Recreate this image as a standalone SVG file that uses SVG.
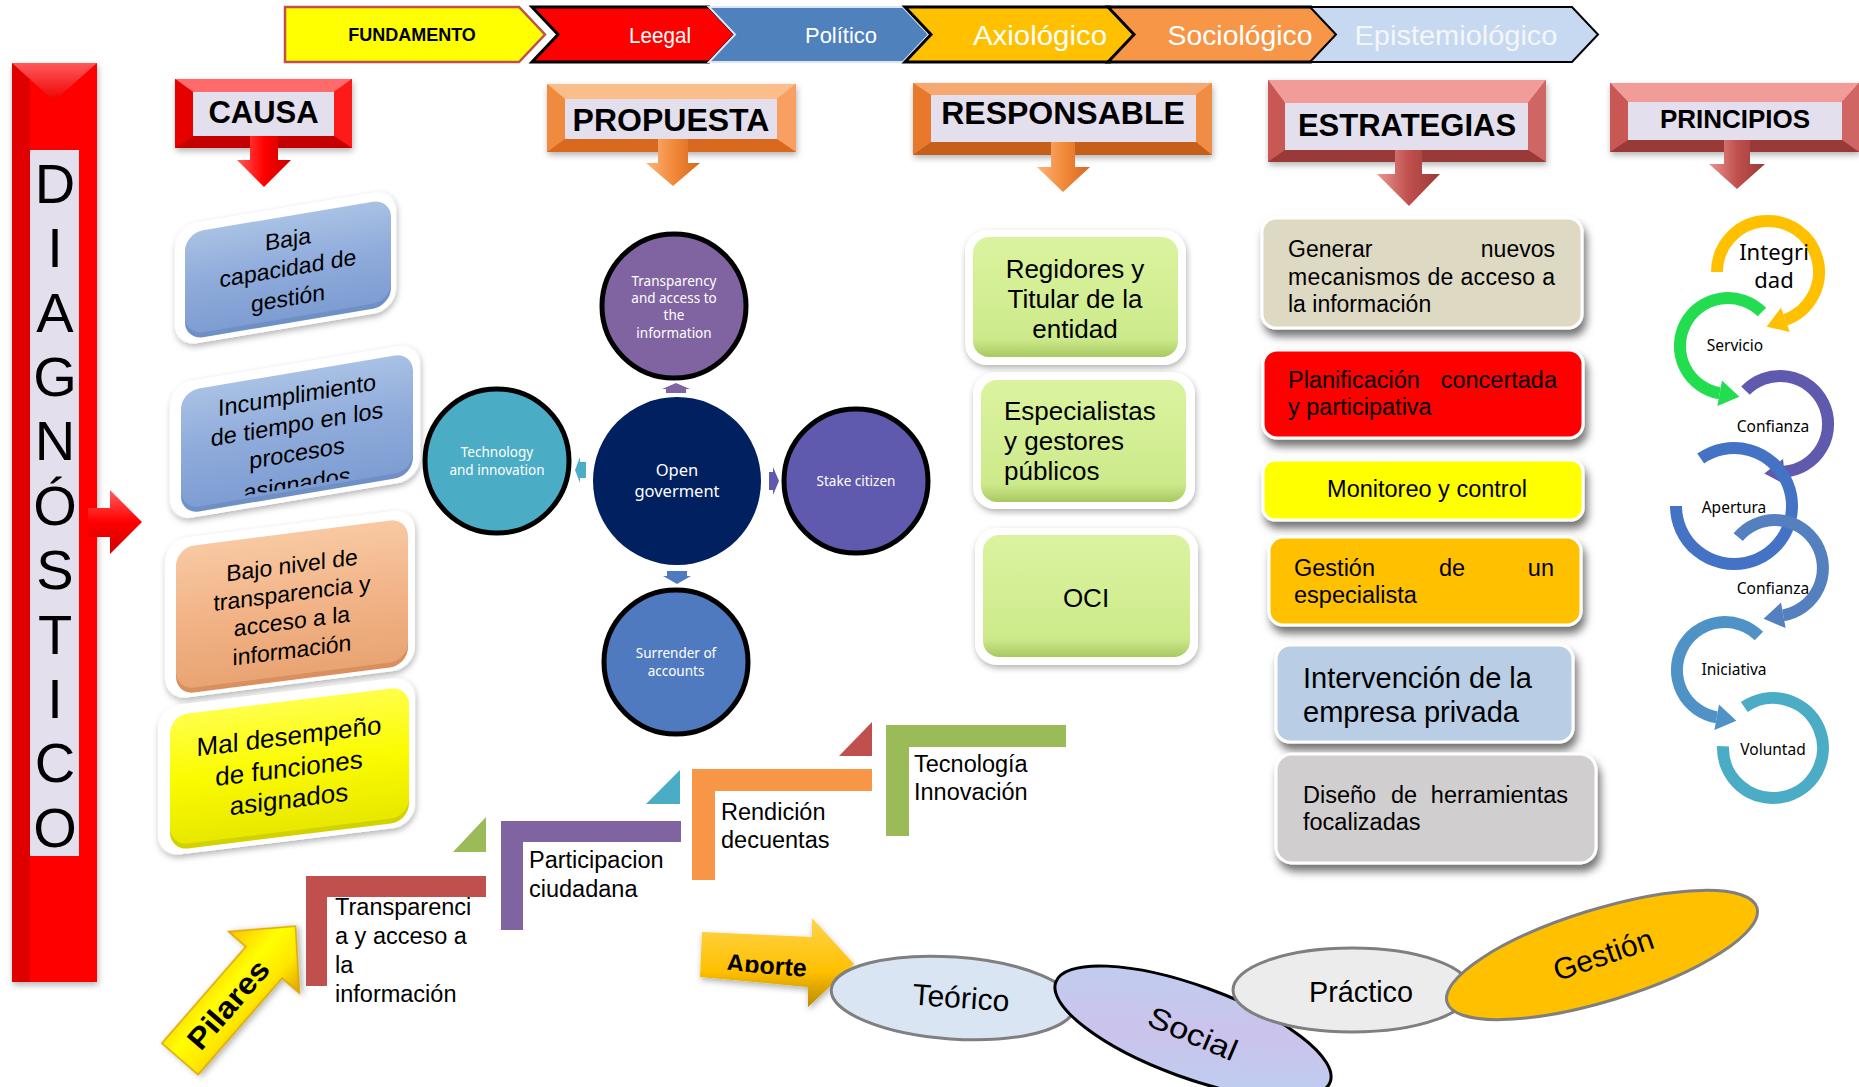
<svg xmlns="http://www.w3.org/2000/svg" width="1859" height="1087" viewBox="0 0 1859 1087">
<defs>
<style>
text{font-family:"Liberation Sans",Arial,sans-serif;fill:#000;}
.b{font-weight:bold;}
.cal{font-family:"Noto Sans","Open Sans",sans-serif;}
.w{fill:#fff;}
.mid{text-anchor:middle;}
.end{text-anchor:end;}
.inner{fill:#e4dfec;}
.circ{stroke:#000;stroke-width:5;}
.est{stroke:#fff;stroke-width:3;filter:url(#shadow);}
.arc{fill:none;stroke-width:12;}
.wbox{fill:#fff;filter:url(#soft);}
</style>
<filter id="soft" x="-15%" y="-15%" width="135%" height="140%"><feDropShadow dx="1" dy="3" stdDeviation="3" flood-color="#000" flood-opacity="0.3"/></filter>
<filter id="shadow" x="-10%" y="-20%" width="125%" height="160%"><feDropShadow dx="3" dy="7" stdDeviation="4" flood-color="#000" flood-opacity="0.55"/></filter>
<linearGradient id="gBlue" x1="0" y1="0" x2="0" y2="1"><stop offset="0" stop-color="#a9c1e4"/><stop offset="0.5" stop-color="#8fabdb"/><stop offset="1" stop-color="#7e9dd2"/></linearGradient>
<linearGradient id="gPeach" x1="0" y1="0" x2="0" y2="1"><stop offset="0" stop-color="#f8c9a2"/><stop offset="0.5" stop-color="#f2b488"/><stop offset="1" stop-color="#e9a473"/></linearGradient>
<linearGradient id="gYel" x1="0" y1="0" x2="0" y2="1"><stop offset="0" stop-color="#ffff4a"/><stop offset="0.5" stop-color="#fbfb00"/><stop offset="1" stop-color="#e8e800"/></linearGradient>
<linearGradient id="gGreen" x1="0" y1="0" x2="0" y2="1"><stop offset="0" stop-color="#dbf39f"/><stop offset="0.85" stop-color="#cdea8b"/><stop offset="1" stop-color="#a9c862"/></linearGradient>
<linearGradient id="gArrR" x1="0" y1="0" x2="1" y2="0"><stop offset="0" stop-color="#ff5a5a"/><stop offset="0.5" stop-color="#ff0000"/><stop offset="1" stop-color="#c80000"/></linearGradient>
<linearGradient id="gArrO" x1="0" y1="0" x2="1" y2="0"><stop offset="0" stop-color="#fbb57c"/><stop offset="0.5" stop-color="#f28a3a"/><stop offset="1" stop-color="#d8661c"/></linearGradient>
<linearGradient id="gArrP" x1="0" y1="0" x2="1" y2="0"><stop offset="0" stop-color="#e89694"/><stop offset="0.5" stop-color="#c0504d"/><stop offset="1" stop-color="#9a3a38"/></linearGradient>
<linearGradient id="gDiagArr" x1="0" y1="0" x2="0" y2="1"><stop offset="0" stop-color="#ff6060"/><stop offset="0.5" stop-color="#ff0000"/><stop offset="1" stop-color="#d00000"/></linearGradient>
<linearGradient id="gTop" x1="0" y1="0" x2="0" y2="1"><stop offset="0" stop-color="#ff5a5a"/><stop offset="1" stop-color="#f00000"/></linearGradient>
<linearGradient id="gAporte" x1="0" y1="0" x2="0" y2="1"><stop offset="0" stop-color="#ffd34d"/><stop offset="0.6" stop-color="#ffc000"/><stop offset="1" stop-color="#b88a00"/></linearGradient>
<linearGradient id="gPil" x1="0" y1="0" x2="0" y2="1"><stop offset="0" stop-color="#ffc000"/><stop offset="0.4" stop-color="#ffff00"/><stop offset="0.7" stop-color="#ffe600"/><stop offset="1" stop-color="#e0a000"/></linearGradient>
<linearGradient id="gSocial" x1="0" y1="0" x2="1" y2="1"><stop offset="0" stop-color="#bcd0f0"/><stop offset="0.5" stop-color="#cbc3ec"/><stop offset="1" stop-color="#b8d2f2"/></linearGradient>
<clipPath id="cl1"><rect x="-103" y="-51" width="206" height="95"/></clipPath>
<clipPath id="cl2"><rect x="-116" y="-59" width="232" height="115"/></clipPath>
<clipPath id="clGen"><rect x="1262" y="218" width="320" height="97"/></clipPath>
<clipPath id="clAp"><polygon points="700,925 815,930 815,976 700,971"/></clipPath>
</defs>

<rect width="1859" height="1087" fill="#fff"/>

<!-- top banner -->
<g id="fundamento">
<polygon points="285,7 519,7 545,34.5 519,62 285,62" fill="#ffff00" stroke="#c0504d" stroke-width="2.5"/>
<text class="b mid" x="412" y="41" font-size="18">FUNDAMENTO</text>
</g>
<g id="leegal">
<polygon points="532,7 709,7 735,34.5 709,62 532,62 558,34.5" fill="#ff0000" stroke="#000" stroke-width="3"/>
<text class="w mid" x="660" y="43" font-size="22" textLength="62" lengthAdjust="spacingAndGlyphs">Leegal</text>
</g>
<g id="politico">
<polygon points="709,7 903,7 929,34.5 903,62 709,62 735,34.5" fill="#4f81bd" stroke="#dce6f2" stroke-width="2"/>
<text class="w mid" x="841" y="43" font-size="22" textLength="72" lengthAdjust="spacingAndGlyphs">Político</text>
</g>
<g id="axiologico">
<polygon points="905,7 1110,7 1136,34.5 1110,62 905,62 931,34.5" fill="#ffc000" stroke="#000" stroke-width="3"/>
<text class="w mid" x="1040" y="45" font-size="28" textLength="134" lengthAdjust="spacingAndGlyphs">Axiológico</text>
</g>
<g id="sociologico">
<polygon points="1108,7 1311,7 1337,34.5 1311,62 1108,62 1134,34.5" fill="#f79646" stroke="#000" stroke-width="3"/>
<text class="w mid" x="1240" y="45" font-size="28" textLength="145" lengthAdjust="spacingAndGlyphs">Sociológico</text>
</g>
<g id="epistemiologico">
<polygon points="1310,7 1572,7 1598,34.5 1572,62 1310,62 1336,34.5" fill="#c6d9f1" stroke="#000" stroke-width="2"/>
<text class="mid" x="1456" y="45" font-size="28" textLength="203" lengthAdjust="spacingAndGlyphs" style="fill:#f4f6fa">Epistemiológico</text>
</g>

<!-- DIAGNOSTICO bar -->
<g id="diagnostico">
<rect x="12" y="63" width="85" height="919" fill="#ff0000" filter="url(#soft)"/>
<rect x="12" y="63" width="18" height="919" fill="#e00000"/>
<polygon points="12,63 97,63 54,101" fill="url(#gTop)"/>
<rect class="inner" x="30" y="150" width="49" height="706"/>
<g class="mid" font-size="56">
<text class="mid" x="55" y="203">D</text>
<text class="mid" x="55" y="267">I</text>
<text class="mid" x="55" y="332">A</text>
<text class="mid" x="55" y="396">G</text>
<text class="mid" x="55" y="460">N</text>
<text class="mid" x="55" y="525">Ó</text>
<text class="mid" x="55" y="589">S</text>
<text class="mid" x="55" y="654">T</text>
<text class="mid" x="55" y="718">I</text>
<text class="mid" x="55" y="782">C</text>
<text class="mid" x="55" y="847">O</text>
</g>
</g>

<!-- header boxes -->
<g id="causa-header">
<rect x="175" y="79" width="177" height="69" fill="#ff0000" filter="url(#soft)"/>
<polygon points="175,79 352,79 334,92 193,92" fill="#ff6a6a"/>
<polygon points="175,79 193,92 193,136 175,148" fill="#e60000"/>
<polygon points="352,79 352,148 334,136 334,92" fill="#ff1a1a"/>
<polygon points="175,148 193,136 334,136 352,148" fill="#c40000"/>
<rect class="inner" x="193" y="92" width="141" height="44"/>
<text class="b mid" x="263.5" y="123" font-size="31">CAUSA</text>
</g>
<g id="propuesta-header">
<rect x="547" y="84" width="249" height="68" fill="#f79646" filter="url(#soft)"/>
<polygon points="547,84 796,84 777,99 565,99" fill="#fbbd8a"/>
<polygon points="547,84 565,99 565,139 547,152" fill="#f08a3c"/>
<polygon points="796,84 796,152 777,139 777,99" fill="#f7a062"/>
<polygon points="547,152 565,139 777,139 796,152" fill="#d8691f"/>
<rect class="inner" x="565" y="99" width="212" height="40"/>
<text class="b mid" x="671" y="131" font-size="32">PROPUESTA</text>
</g>
<g id="responsable-header">
<rect x="913" y="83" width="299" height="72" fill="#ed7d31" filter="url(#soft)"/>
<polygon points="913,83 1212,83 1196,95 931,95" fill="#f6a870"/>
<polygon points="913,83 931,95 931,142 913,155" fill="#e8792c"/>
<polygon points="1212,83 1212,155 1196,142 1196,95" fill="#f08c44"/>
<polygon points="913,155 931,142 1196,142 1212,155" fill="#c55f1a"/>
<rect class="inner" x="931" y="95" width="265" height="47"/>
<text class="b mid" x="1063" y="124" font-size="32">RESPONSABLE</text>
</g>
<g id="estrategias-header">
<rect x="1268" y="80" width="278" height="82" fill="#c0504d" filter="url(#soft)"/>
<polygon points="1268,80 1546,80 1528,103 1285,103" fill="#f19c99"/>
<polygon points="1268,80 1285,103 1285,150 1268,162" fill="#c95855"/>
<polygon points="1546,80 1546,162 1528,150 1528,103" fill="#d06663"/>
<polygon points="1268,162 1285,150 1528,150 1546,162" fill="#9a3a38"/>
<rect class="inner" x="1285" y="103" width="243" height="47"/>
<text class="b mid" x="1407" y="136" font-size="31">ESTRATEGIAS</text>
</g>
<g id="principios-header">
<rect x="1610" y="83" width="249" height="69" fill="#c0504d" filter="url(#soft)"/>
<polygon points="1610,83 1859,83 1842,102 1628,102" fill="#f19c99"/>
<polygon points="1610,83 1628,102 1628,140 1610,152" fill="#c95855"/>
<polygon points="1859,83 1859,152 1842,140 1842,102" fill="#d06663"/>
<polygon points="1610,152 1628,140 1842,140 1859,152" fill="#9a3a38"/>
<rect class="inner" x="1628" y="102" width="214" height="38"/>
<text class="b mid" x="1735" y="128" font-size="26">PRINCIPIOS</text>
</g>

<!-- CAUSA boxes -->
<g id="causa-1" transform="translate(288,267) skewY(-9.5)">
<rect class="wbox" x="-113" y="-60" width="221" height="121" rx="22"/>
<rect x="-103" y="-46" width="206" height="102" rx="18" fill="#6f8fc5"/>
<rect x="-103" y="-51" width="206" height="102" rx="18" fill="url(#gBlue)"/>
<text class="mid" font-size="23" clip-path="url(#cl1)"><tspan x="0" y="-20">Baja</tspan><tspan x="0" y="9">capacidad de</tspan><tspan x="0" y="39">gestión</tspan></text>
</g>
<g id="causa-2" transform="translate(297,431) skewY(-9.5)">
<rect class="wbox" x="-127" y="-68" width="250" height="137" rx="22"/>
<rect x="-116" y="-54" width="232" height="118" rx="18" fill="#6f8fc5"/>
<rect x="-116" y="-59" width="232" height="118" rx="18" fill="url(#gBlue)"/>
<text class="mid" font-size="23.5" clip-path="url(#cl2)"><tspan x="0" y="-28">Incumplimiento</tspan><tspan x="0" y="1">de tiempo en los</tspan><tspan x="0" y="30">procesos</tspan><tspan x="0" y="61">asignados</tspan></text>
</g>
<g id="causa-3" transform="translate(292,604) skewY(-7.3)">
<rect class="wbox" x="-127" y="-80" width="250" height="160" rx="22"/>
<rect x="-116" y="-66" width="232" height="142" rx="18" fill="#d9905e"/>
<rect x="-116" y="-71" width="232" height="142" rx="18" fill="url(#gPeach)"/>
<text class="mid" font-size="23"><tspan x="0" y="-31">Bajo nivel de</tspan><tspan x="0" y="-3">transparencia y</tspan><tspan x="0" y="25">acceso a la</tspan><tspan x="0" y="54">información</tspan></text>
</g>
<g id="causa-4" transform="translate(289,766) skewY(-7)">
<rect class="wbox" x="-131" y="-75" width="257" height="150" rx="22"/>
<rect x="-119" y="-60" width="239" height="130" rx="18" fill="#d2d200"/>
<rect x="-119" y="-65" width="239" height="130" rx="18" fill="url(#gYel)"/>
<text class="mid" font-size="26"><tspan x="0" y="-21">Mal desempeño</tspan><tspan x="0" y="11">de funciones</tspan><tspan x="0" y="42">asignados</tspan></text>
</g>

<!-- PROPUESTA circles -->
<g id="open-government">
<circle cx="677" cy="481" r="84" fill="#002060"/>
<text class="cal w mid" font-size="16.5"><tspan x="677" y="476">Open</tspan><tspan x="677" y="497">goverment</tspan></text>
</g>
<g id="transparency">
<circle class="circ" cx="674" cy="306" r="72" fill="#8064a2"/>
<text class="cal w mid" font-size="13.5"><tspan x="674" y="285.5">Transparency</tspan><tspan x="674" y="302.5">and access to</tspan><tspan x="674" y="319.5">the</tspan><tspan x="674" y="337.5">information</tspan></text>
</g>
<g id="technology">
<circle class="circ" cx="497" cy="461" r="72" fill="#4bacc6"/>
<text class="cal w mid" font-size="13.5"><tspan x="497" y="457">Technology</tspan><tspan x="497" y="475">and innovation</tspan></text>
</g>
<g id="stake-citizen">
<circle class="circ" cx="856" cy="481" r="72" fill="#5f5aad"/>
<text class="cal w mid" x="856" y="486" font-size="13.5">Stake citizen</text>
</g>
<g id="surrender">
<circle class="circ" cx="676" cy="662" r="72" fill="#4f7abf"/>
<text class="cal w mid" font-size="13.5"><tspan x="676" y="658">Surrender of</tspan><tspan x="676" y="676">accounts</tspan></text>
</g>

<!-- RESPONSABLE boxes -->
<g id="resp-1">
<rect class="wbox" x="965" y="230" width="221" height="135" rx="22"/>
<rect x="973" y="237" width="205" height="120" rx="16" fill="url(#gGreen)"/>
<text class="mid" font-size="26"><tspan x="1075" y="278">Regidores y</tspan><tspan x="1075" y="308">Titular de la</tspan><tspan x="1075" y="338">entidad</tspan></text>
</g>
<g id="resp-2">
<rect class="wbox" x="973" y="372" width="222" height="137" rx="22"/>
<rect x="981" y="380" width="205" height="122" rx="16" fill="url(#gGreen)"/>
<text font-size="26"><tspan x="1004" y="420">Especialistas</tspan><tspan x="1004" y="450">y gestores</tspan><tspan x="1004" y="480">públicos</tspan></text>
</g>
<g id="resp-3">
<rect class="wbox" x="975" y="528" width="223" height="137" rx="22"/>
<rect x="983" y="535" width="207" height="122" rx="16" fill="url(#gGreen)"/>
<text class="mid" x="1086" y="607" font-size="26">OCI</text>
</g>

<!-- ESTRATEGIAS boxes -->
<g id="est-1">
<rect class="est" x="1262" y="218" width="320" height="110" rx="14" fill="#ddd9c3"/>
<g clip-path="url(#clGen)" font-size="23">
<text x="1288" y="257">Generar</text>
<text class="end" x="1555" y="257">nuevos</text>
<text x="1288" y="285" textLength="267" lengthAdjust="spacing">mecanismos de acceso a</text>
<text x="1288" y="312">la información</text>
</g>
</g>
<g id="est-2">
<rect class="est" x="1263" y="350" width="320" height="88" rx="14" fill="#ff0000"/>
<text x="1288" y="388" font-size="23.5">Planificación</text>
<text class="end" x="1557" y="388" font-size="23.5">concertada</text>
<text x="1288" y="415" font-size="23.5">y participativa</text>
</g>
<g id="est-3">
<rect class="est" x="1263" y="460" width="320" height="60" rx="12" fill="#ffff00"/>
<text class="mid" x="1427" y="497" font-size="23.5">Monitoreo y control</text>
</g>
<g id="est-4">
<rect class="est" x="1269" y="537" width="312" height="88" rx="14" fill="#ffc000"/>
<text x="1294" y="576" font-size="23.5">Gestión</text>
<text class="mid" x="1452" y="576" font-size="23.5">de</text>
<text class="end" x="1554" y="576" font-size="23.5">un</text>
<text x="1294" y="603" font-size="23.5">especialista</text>
</g>
<g id="est-5">
<rect class="est" x="1276" y="645" width="297" height="97" rx="14" fill="#b9cde5"/>
<text font-size="29"><tspan x="1303" y="688">Intervención de la</tspan><tspan x="1303" y="722">empresa privada</tspan></text>
</g>
<g id="est-6">
<rect class="est" x="1276" y="754" width="320" height="109" rx="16" fill="#d0cece"/>
<text x="1303" y="803" font-size="23.5">Diseño</text>
<text class="mid" x="1404" y="803" font-size="23.5">de</text>
<text class="end" x="1568" y="803" font-size="23.5">herramientas</text>
<text x="1303" y="830" font-size="23.5">focalizadas</text>
</g>

<!-- PRINCIPIOS chain -->
<g id="p-integridad">
<path class="arc" d="M1717,272 A51,51 0 1 1 1785.4,319.9" stroke="#ffc000"/>
<polygon points="1789.8,332.1 1781,307.7 1766.6,326.7" fill="#ffc000"/>
<text class="cal mid" font-size="22"><tspan x="1774" y="260">Integri</tspan><tspan x="1774" y="288">dad</tspan></text>
</g>
<g id="p-servicio">
<path class="arc" d="M1761.9,312.1 A48,48 0 1 0 1719.7,393.3" stroke="#22dd50"/>
<polygon points="1717.4,406.1 1722,380.5 1739.4,396.8" fill="#22dd50"/>
<text class="cal mid" x="1735" y="351" font-size="15.5">Servicio</text>
</g>
<g id="p-confianza-1">
<path class="arc" d="M1745.5,390.7 A48,48 0 1 1 1784.2,471.8" stroke="#5f5aad"/>
<polygon points="1785.3,484.7 1783.1,458.9 1764.3,473.5" fill="#5f5aad"/>
<text class="cal mid" x="1773" y="432" font-size="15.5">Confianza</text>
</g>
<g id="p-apertura">
<path class="arc" d="M1700.7,458.5 A58,58 0 1 1 1676,506" stroke="#4472c4" stroke-width="15"/>
<text class="cal mid" x="1734" y="513" font-size="15.5">Apertura</text>
</g>
<g id="p-confianza-2">
<path class="arc" d="M1738.2,537.1 A48,48 0 1 1 1783.3,615.3" stroke="#5580c0"/>
<polygon points="1785.6,628.1 1781,602.5 1763.6,618.8" fill="#5580c0"/>
<text class="cal mid" x="1773" y="594" font-size="15.5">Confianza</text>
</g>
<g id="p-iniciativa">
<path class="arc" d="M1758.9,636.1 A48,48 0 1 0 1716.7,717.3" stroke="#4f93c6"/>
<polygon points="1714.4,730.1 1719,704.5 1736.4,720.8" fill="#4f93c6"/>
<text class="cal mid" x="1734" y="675" font-size="15.5">Iniciativa</text>
</g>
<g id="p-voluntad">
<path class="arc" d="M1744.3,707 A50,50 0 1 1 1723,746.3" stroke="#4bacc6"/>
<text class="cal mid" x="1773" y="755" font-size="15.5">Voluntad</text>
</g>

<!-- Pilares staircase -->
<g id="pilares-arrow" transform="translate(180,1059) rotate(-49)">
<polygon points="0,-24 128,-24 128,-47 176,0 128,47 128,24 0,24" fill="url(#gPil)" stroke="#d9a400" stroke-width="1.5" filter="url(#soft)"/>
<text class="b mid" x="73" y="11" font-size="30" textLength="108" lengthAdjust="spacingAndGlyphs">Pilares</text>
</g>
<g id="pilar-transparencia">
<polygon points="306,876 486,876 486,897 327,897 327,986 306,986" fill="#c0504d"/>
<text font-size="23.5"><tspan x="335" y="915">Transparenci</tspan><tspan x="335" y="944">a y acceso a</tspan><tspan x="335" y="973">la</tspan><tspan x="335" y="1002">información</tspan></text>
</g>
<g id="pilar-participacion">
<polygon points="453,852 486,852 486,817" fill="#9bbb59"/>
<polygon points="501,821 681,821 681,842 523,842 523,930 501,930" fill="#8064a2"/>
<text font-size="23.5"><tspan x="529" y="868">Participacion</tspan><tspan x="529" y="897">ciudadana</tspan></text>
</g>
<g id="pilar-rendicion">
<polygon points="646,804 680,804 680,770" fill="#4bacc6"/>
<polygon points="692,769 872,769 872,791 715,791 715,880 692,880" fill="#f79646"/>
<text font-size="23.5"><tspan x="721" y="820">Rendición</tspan><tspan x="721" y="848">decuentas</tspan></text>
</g>
<g id="pilar-tecnologia">
<polygon points="839,756 872,756 872,722" fill="#c0504d"/>
<polygon points="886,725 1066,725 1066,747 909,747 909,836 886,836" fill="#9bbb59"/>
<text font-size="23.5"><tspan x="914" y="772">Tecnología</tspan><tspan x="914" y="800">Innovación</tspan></text>
</g>

<!-- Aporte -->
<g id="aporte">
<polygon points="702,932 812,937 812,918 854,964 808,1007 808,987 700,977" fill="url(#gAporte)" filter="url(#soft)"/>
<text class="b mid" x="766" y="974" font-size="25" transform="rotate(4 766 974)" clip-path="url(#clAp)">Aporte</text>
</g>
<g id="teorico">
<ellipse cx="953" cy="998" rx="122" ry="41" transform="rotate(4 953 998)" fill="#dae5f3" stroke="#7f7f7f" stroke-width="3"/>
<text class="mid" x="961" y="1008" font-size="30" textLength="97" lengthAdjust="spacingAndGlyphs" transform="rotate(4 961 998)">Teórico</text>
</g>
<g id="social">
<ellipse cx="1193" cy="1032" rx="146" ry="46" transform="rotate(20 1193 1032)" fill="url(#gSocial)" stroke="#000" stroke-width="3"/>
<text class="mid" x="1193" y="1044" font-size="30" textLength="94" lengthAdjust="spacingAndGlyphs" transform="rotate(23 1193 1033)">Social</text>
</g>
<g id="practico">
<ellipse cx="1352" cy="990" rx="119" ry="42" fill="#ececec" stroke="#7f7f7f" stroke-width="3"/>
<text class="mid" x="1361" y="1002" font-size="30" textLength="104" lengthAdjust="spacingAndGlyphs">Práctico</text>
</g>
<g id="gestion">
<ellipse cx="1602" cy="955" rx="162" ry="46" transform="rotate(-17 1602 955)" fill="#ffc000" stroke="#7f7f7f" stroke-width="3"/>
<text class="mid" x="1603" y="965" font-size="30" textLength="104" lengthAdjust="spacingAndGlyphs" transform="rotate(-19 1603 954)">Gestión</text>
</g>

<!-- connectors -->
<g id="connectors">
<path d="M250,136 H278 V160 H291 L264,187 L237,160 H250 Z" fill="url(#gArrR)"/>
<path d="M658,139 H688 V163 H700 L673,186 L646,163 H658 Z" fill="url(#gArrO)"/>
<path d="M1051,142 H1075 V167 H1090 L1063,192 L1037,167 H1051 Z" fill="url(#gArrO)"/>
<path d="M1395,150 H1422 V174 H1440 L1409,206 L1377,174 H1395 Z" fill="url(#gArrP)"/>
<path d="M1724,140 H1750 V164 H1765 L1737,189 L1709,164 H1724 Z" fill="url(#gArrP)"/>
<path d="M88,508 H110 V490 L142,522 L110,554 V537 H88 Z" fill="url(#gDiagArr)"/>
<polygon points="666,393 666,389 662,389 676,383 690,389 686,389 686,393" fill="#8064a2"/>
<polygon points="586,462 580,462 580,457 575,470 580,483 580,478 586,478" fill="#4bacc6"/>
<polygon points="769,472 773,472 773,467 779,481 773,495 773,490 769,490" fill="#5f5aad"/>
<polygon points="667,571 687,571 687,576 691,576 677,584 663,576 667,576" fill="#4f7abf"/>
</g>
</svg>
